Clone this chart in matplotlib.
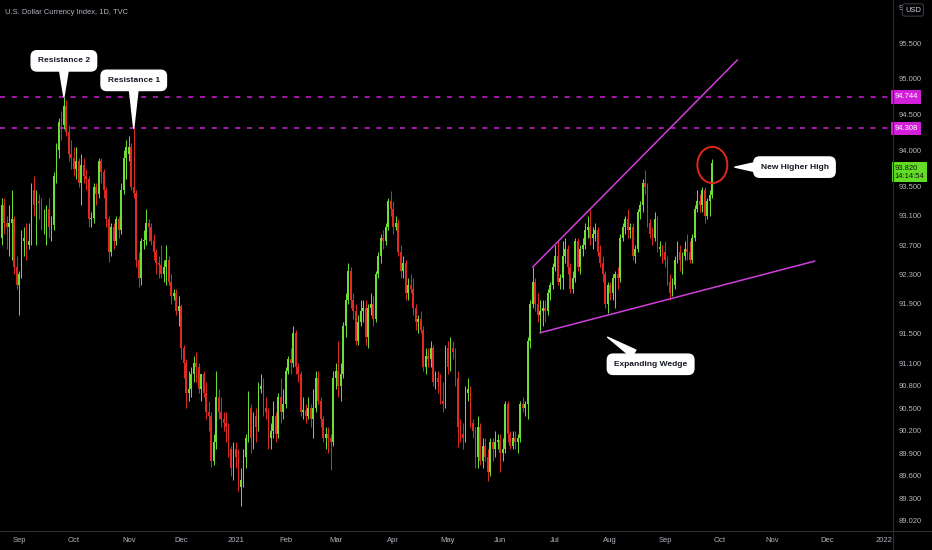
import matplotlib
matplotlib.use('Agg')
import matplotlib.pyplot as plt
from matplotlib.patches import Ellipse
from matplotlib.ticker import FixedLocator, NullLocator, FuncFormatter
import numpy as np
import pandas as pd

plt.rcParams['font.family'] = ['Liberation Sans', 'DejaVu Sans']

# daily candles (open, high, low, close), one list per month
aug_2020 = [
    (92.95, 93.05, 92.50, 92.80), (92.80, 93.35, 92.70, 93.25), (93.25, 93.35, 92.85, 93.00),
    (93.00, 93.10, 92.65, 92.95), (92.95, 93.25, 92.55, 93.00), (93.00, 93.45, 92.50, 93.05),
    (93.05, 93.10, 92.30, 92.40), (92.40, 92.55, 92.10, 92.15),
]
sep_2020 = [
    (92.15, 92.35, 91.75, 92.30), (92.30, 92.90, 92.25, 92.75), (92.75, 92.95, 92.55, 92.80),
    (92.80, 93.00, 92.50, 92.70), (92.70, 93.00, 92.65, 92.75), (92.75, 93.55, 92.70, 93.45),
    (93.45, 93.65, 93.10, 93.25), (93.25, 93.45, 92.70, 93.30), (93.30, 93.40, 93.05, 93.28),
    (93.28, 93.35, 92.90, 93.05), (93.05, 93.20, 92.85, 93.06), (93.06, 93.25, 92.70, 93.20),
    (93.20, 93.35, 92.80, 92.95), (92.95, 93.10, 92.75, 92.97), (92.97, 93.70, 92.90, 93.65),
    (93.65, 94.10, 93.55, 94.00), (94.00, 94.45, 93.90, 94.40), (94.40, 94.55, 94.15, 94.35),
    (94.35, 94.744, 94.30, 94.62), (94.62, 94.70, 94.20, 94.25), (94.25, 94.35, 93.85, 93.95),
    (93.95, 94.15, 93.75, 93.90),
]
oct_2020 = [
    (93.90, 94.05, 93.65, 93.75), (93.75, 94.05, 93.60, 93.85), (93.85, 93.90, 93.50, 93.55),
    (93.55, 93.95, 93.25, 93.80), (93.80, 93.90, 93.55, 93.65), (93.65, 93.75, 93.45, 93.60),
    (93.60, 93.65, 92.95, 93.05), (93.05, 93.15, 92.95, 93.07), (93.07, 93.55, 93.00, 93.50),
    (93.50, 93.55, 93.25, 93.40), (93.40, 93.90, 93.35, 93.85), (93.85, 93.90, 93.55, 93.70),
    (93.70, 93.75, 93.35, 93.45), (93.45, 93.50, 92.95, 93.05), (93.05, 93.10, 92.47, 92.60),
    (92.60, 93.00, 92.55, 92.95), (92.95, 93.00, 92.65, 92.75), (92.75, 93.10, 92.70, 93.05),
    (93.05, 93.10, 92.80, 92.90), (92.90, 93.55, 92.85, 93.45), (93.45, 94.00, 93.40, 93.90),
    (93.90, 94.15, 93.60, 94.05),
]
nov_2020 = [
    (93.95, 94.20, 93.85, 94.05), (94.05, 94.10, 93.45, 93.50), (93.50, 94.308, 93.35, 93.42),
    (93.42, 93.45, 92.40, 92.50), (92.50, 92.60, 92.13, 92.25), (92.25, 92.80, 92.15, 92.75),
    (92.75, 92.90, 92.65, 92.77), (92.77, 93.20, 92.70, 93.00), (93.00, 93.05, 92.75, 92.95),
    (92.95, 93.00, 92.70, 92.75), (92.75, 92.85, 92.50, 92.60), (92.60, 92.65, 92.30, 92.45),
    (92.45, 92.55, 92.25, 92.43), (92.43, 92.70, 92.25, 92.30), (92.30, 92.50, 92.20, 92.40),
    (92.40, 92.70, 92.15, 92.50), (92.50, 92.55, 92.15, 92.20), (92.20, 92.30, 91.90, 92.00),
    (92.00, 92.10, 91.95, 92.05), (92.05, 92.10, 91.75, 91.80), (91.80, 92.00, 91.60, 91.87),
]
dec_2020 = [
    (91.87, 91.90, 91.15, 91.30), (91.30, 91.35, 90.90, 91.10), (91.10, 91.15, 90.50, 90.70),
    (90.70, 91.00, 90.60, 90.75), (90.75, 91.05, 90.65, 90.95), (90.95, 91.20, 90.85, 91.10),
    (91.10, 91.25, 90.85, 91.05), (91.05, 91.10, 90.70, 90.75), (90.75, 90.95, 90.60, 90.95),
    (90.95, 91.00, 90.65, 90.70), (90.70, 90.85, 90.35, 90.45), (90.45, 90.60, 90.20, 90.40),
    (90.40, 90.45, 89.72, 89.80), (89.80, 90.15, 89.75, 90.05), (90.05, 91.00, 89.95, 90.65),
    (90.65, 90.75, 90.35, 90.45), (90.45, 90.65, 90.25, 90.35), (90.35, 90.45, 90.20, 90.30),
    (90.30, 90.45, 90.05, 90.25), (90.25, 90.30, 89.85, 89.95), (89.95, 90.00, 89.60, 89.70),
    (89.70, 90.05, 89.55, 89.95),
]
jan_2021 = [
    (89.95, 90.05, 89.70, 89.85), (89.85, 89.95, 89.40, 89.45), (89.45, 89.70, 89.21, 89.55),
    (89.55, 89.95, 89.45, 89.85), (89.85, 90.15, 89.70, 90.10), (90.10, 90.73, 90.05, 90.50),
    (90.50, 90.55, 89.90, 90.10), (90.10, 90.45, 89.95, 90.40), (90.40, 90.50, 90.05, 90.25),
    (90.25, 90.85, 90.20, 90.75), (90.75, 90.95, 90.70, 90.80), (90.80, 90.90, 90.40, 90.50),
    (90.50, 90.65, 90.35, 90.45), (90.45, 90.50, 89.95, 90.10), (90.10, 90.30, 89.95, 90.20),
    (90.20, 90.60, 90.10, 90.40), (90.40, 90.45, 90.05, 90.15), (90.15, 90.70, 90.10, 90.65),
    (90.65, 90.90, 90.30, 90.45), (90.45, 90.75, 90.35, 90.55),
]
feb_2021 = [
    (90.55, 91.05, 90.50, 91.00), (91.00, 91.20, 90.95, 91.15), (91.15, 91.30, 90.95, 91.10),
    (91.10, 91.60, 91.05, 91.50), (91.50, 91.55, 90.95, 91.05), (91.05, 91.10, 90.85, 90.95),
    (90.95, 91.00, 90.40, 90.45), (90.45, 90.65, 90.35, 90.47), (90.47, 90.55, 90.30, 90.40),
    (90.40, 90.65, 90.35, 90.50), (90.50, 90.55, 90.25, 90.35), (90.35, 90.75, 90.10, 90.50),
    (90.50, 91.00, 90.45, 90.90), (90.90, 91.00, 90.55, 90.60), (90.60, 90.65, 90.25, 90.35),
    (90.35, 90.40, 90.05, 90.10), (90.10, 90.25, 89.95, 90.15), (90.15, 90.25, 89.90, 90.10),
    (90.10, 90.15, 89.68, 90.05), (90.05, 91.00, 90.00, 90.90),
]
mar_2021 = [
    (90.90, 91.10, 90.75, 91.00), (91.00, 91.40, 90.65, 90.80), (90.80, 91.10, 90.60, 90.95),
    (90.95, 91.65, 90.90, 91.60), (91.60, 92.05, 91.45, 91.95), (91.95, 92.45, 91.90, 92.35),
    (92.35, 92.40, 91.85, 91.95), (91.95, 92.05, 91.70, 91.80), (91.80, 91.90, 91.35, 91.40),
    (91.40, 91.75, 91.35, 91.65), (91.65, 91.95, 91.60, 91.80), (91.80, 91.95, 91.65, 91.85),
    (91.85, 91.95, 91.35, 91.45), (91.45, 91.90, 91.30, 91.85), (91.85, 92.05, 91.75, 91.90),
    (91.90, 92.00, 91.60, 91.70), (91.70, 92.35, 91.65, 92.30), (92.30, 92.60, 92.25, 92.55),
    (92.55, 92.85, 92.45, 92.80), (92.80, 92.90, 92.65, 92.75), (92.75, 93.00, 92.70, 92.95),
    (92.95, 93.35, 92.90, 93.30), (93.30, 93.44, 93.10, 93.20),
]
apr_2021 = [
    (93.20, 93.30, 92.85, 92.95), (92.95, 93.10, 92.90, 93.00), (93.00, 93.05, 92.55, 92.60),
    (92.60, 92.70, 92.25, 92.35), (92.35, 92.55, 92.25, 92.45), (92.45, 92.50, 91.95, 92.05),
    (92.05, 92.25, 91.95, 92.15), (92.15, 92.30, 92.05, 92.10), (92.10, 92.25, 91.75, 91.85),
    (91.85, 91.90, 91.55, 91.65), (91.65, 91.75, 91.50, 91.70), (91.70, 91.80, 91.50, 91.55),
    (91.55, 91.60, 91.00, 91.05), (91.05, 91.30, 90.95, 91.20), (91.20, 91.30, 91.05, 91.15),
    (91.15, 91.40, 91.05, 91.30), (91.30, 91.35, 90.80, 90.85), (90.85, 91.00, 90.75, 90.90),
    (90.90, 91.00, 90.70, 90.85), (90.85, 90.95, 90.55, 90.60), (90.60, 90.85, 90.45, 90.55),
    (90.55, 91.35, 90.50, 91.30),
]
may_2021 = [
    (91.30, 91.40, 90.95, 91.05), (91.05, 91.45, 91.00, 91.30), (91.30, 91.40, 91.15, 91.25),
    (91.25, 91.30, 90.80, 90.90), (90.90, 91.00, 89.98, 90.25), (90.25, 90.35, 90.05, 90.15),
    (90.15, 90.30, 89.95, 90.10), (90.10, 90.80, 90.05, 90.70), (90.70, 90.90, 90.60, 90.75),
    (90.75, 90.80, 90.25, 90.30), (90.30, 90.35, 90.10, 90.20), (90.20, 90.25, 89.70, 89.85),
    (89.85, 90.40, 89.70, 90.25), (90.25, 90.30, 89.75, 89.80), (89.80, 90.10, 89.70, 90.00),
    (90.00, 90.10, 89.80, 89.85), (89.85, 89.95, 89.53, 89.65), (89.65, 90.10, 89.60, 90.05),
    (90.05, 90.10, 89.80, 89.95), (89.95, 90.20, 89.85, 90.05), (90.05, 90.15, 89.95, 90.07),
]
jun_2021 = [
    (90.07, 90.15, 89.65, 89.90), (89.90, 90.10, 89.80, 89.95), (89.95, 90.60, 89.90, 90.55),
    (90.55, 90.60, 90.05, 90.15), (90.15, 90.20, 89.95, 90.00), (90.00, 90.20, 89.95, 90.10),
    (90.10, 90.20, 89.95, 90.05), (90.05, 90.15, 89.90, 90.10), (90.10, 90.60, 90.05, 90.55),
    (90.55, 90.65, 90.45, 90.50), (90.50, 90.60, 90.40, 90.55), (90.55, 91.45, 90.35, 91.40),
    (91.40, 91.95, 91.30, 91.90), (91.90, 92.40, 91.85, 92.20), (92.20, 92.25, 91.80, 91.90),
    (91.90, 92.05, 91.65, 91.75), (91.75, 91.95, 91.51, 91.80), (91.80, 91.95, 91.60, 91.85),
    (91.85, 91.95, 91.65, 91.80), (91.80, 92.10, 91.75, 92.05), (92.05, 92.20, 91.95, 92.15),
    (92.15, 92.45, 92.10, 92.40),
]
jul_2021 = [
    (92.40, 92.70, 92.35, 92.55), (92.55, 92.75, 92.15, 92.20), (92.20, 92.30, 92.10, 92.25),
    (92.25, 92.75, 92.10, 92.55), (92.55, 92.80, 92.45, 92.65), (92.65, 92.70, 92.30, 92.40),
    (92.40, 92.45, 92.05, 92.10), (92.10, 92.35, 92.05, 92.25), (92.25, 92.80, 92.20, 92.75),
    (92.75, 92.80, 92.35, 92.40), (92.40, 92.70, 92.30, 92.65), (92.65, 92.80, 92.55, 92.70),
    (92.70, 93.00, 92.65, 92.90), (92.90, 93.10, 92.80, 92.95), (92.95, 93.19, 92.70, 92.80),
    (92.80, 92.95, 92.65, 92.85), (92.85, 93.00, 92.75, 92.90), (92.90, 92.95, 92.55, 92.60),
    (92.60, 92.70, 92.40, 92.45), (92.45, 92.55, 92.20, 92.30), (92.30, 92.35, 91.85, 91.90),
    (91.90, 92.20, 91.78, 92.15),
]
aug_2021 = [
    (92.15, 92.20, 91.95, 92.05), (92.05, 92.30, 91.95, 92.25), (92.25, 92.35, 91.85, 92.30),
    (92.30, 92.40, 92.10, 92.25), (92.25, 92.85, 92.20, 92.80), (92.80, 93.00, 92.75, 92.95),
    (92.95, 93.10, 92.85, 93.05), (93.05, 93.20, 92.80, 92.90), (92.90, 93.00, 92.80, 92.95),
    (92.95, 93.00, 92.50, 92.55), (92.55, 92.70, 92.45, 92.65), (92.65, 93.20, 92.60, 93.15),
    (93.15, 93.30, 93.05, 93.25), (93.25, 93.60, 93.15, 93.55), (93.55, 93.73, 93.40, 93.50),
    (93.50, 93.55, 92.95, 93.00), (93.00, 93.05, 92.80, 92.85), (92.85, 92.95, 92.70, 92.80),
    (92.80, 93.15, 92.75, 93.05), (93.05, 93.10, 92.60, 92.65), (92.65, 92.75, 92.55, 92.67),
    (92.67, 92.70, 92.45, 92.60),
]
sep_2021 = [
    (92.60, 92.75, 92.40, 92.50), (92.50, 92.55, 92.15, 92.20), (92.20, 92.30, 91.95, 92.05),
    (92.05, 92.25, 92.00, 92.15), (92.15, 92.55, 92.10, 92.50), (92.50, 92.75, 92.45, 92.60),
    (92.60, 92.70, 92.35, 92.50), (92.50, 92.60, 92.30, 92.55), (92.55, 92.75, 92.50, 92.65),
    (92.65, 92.85, 92.50, 92.60), (92.60, 92.75, 92.45, 92.50), (92.50, 92.85, 92.45, 92.80),
    (92.80, 93.25, 92.75, 93.20), (93.20, 93.45, 93.15, 93.30), (93.30, 93.40, 93.15, 93.25),
    (93.25, 93.50, 93.15, 93.45), (93.45, 93.50, 93.00, 93.10), (93.10, 93.35, 93.05, 93.30),
    (93.30, 93.45, 93.10, 93.38), (93.38, 93.88, 93.35, 93.82),
]

months = [
    ('2020-08', aug_2020), ('2020-09', sep_2020), ('2020-10', oct_2020), ('2020-11', nov_2020),
    ('2020-12', dec_2020), ('2021-01', jan_2021), ('2021-02', feb_2021), ('2021-03', mar_2021),
    ('2021-04', apr_2021), ('2021-05', may_2021), ('2021-06', jun_2021), ('2021-07', jul_2021),
    ('2021-08', aug_2021), ('2021-09', sep_2021),
]

price_ticks = [96.0, 95.5, 95.0, 94.5, 94.0, 93.5, 93.1, 92.7, 92.3, 91.9, 91.5,
               91.1, 90.8, 90.5, 90.2, 89.9, 89.6, 89.3, 89.02]
resistance = [94.744, 94.308]
last_price = 93.820
countdown = '14:14:54'
wedge_upper = [('2021-06-18', 92.40), ('2021-10-12', 95.26)]
wedge_lower = [('2021-06-23', 91.51), ('2021-11-24', 92.48)]
holidays = ['2020-12-25', '2021-01-01']

GREEN = '#6ee035'
RED = '#e02a22'
MAGENTA = '#d21fd8'
GREY = '#b2b5be'
LINE = '#2a2e39'

# trading calendar (bar index = x position)
cal = pd.bdate_range('2020-08-20', '2022-01-14')
cal = cal[~cal.isin(pd.to_datetime(holidays))]
pos = {d: i for i, d in enumerate(cal)}
ym = cal.strftime('%Y-%m')


def bar_of(d):
    return pos[pd.Timestamp(d)]


xs, rows = [], []
for key, data in months:
    idx = np.where(ym == key)[0][:len(data)]
    xs.extend(idx)
    rows.extend(data)
x = np.array(xs)
o, h, l, c = np.array(rows).T

fig = plt.figure(figsize=(9.32, 5.5), dpi=100, facecolor='black')
ax = fig.add_axes([0, 19 / 550, 893 / 932, 531 / 550])
ax.set_facecolor('black')
ax.set_yscale('log')

col = np.where(c >= o, GREEN, RED)
ax.vlines(x, l, h, colors=col, lw=0.7, zorder=2)
ax.bar(x, np.maximum(np.abs(c - o), 0.012), bottom=np.minimum(o, c), width=0.72,
       color=col, lw=0, zorder=3)

for v in resistance:
    ax.axhline(v, color=MAGENTA, lw=1.1, ls=(0, (3.3, 4.4)), zorder=4)
    ax.text(1.0015, v, f'{v:.3f}', transform=ax.get_yaxis_transform(), ha='left', va='center',
            fontsize=5.5, color='white', clip_on=False, zorder=6,
            bbox=dict(boxstyle='square,pad=0.4', fc=MAGENTA, ec='none'))

for line in (wedge_upper, wedge_lower):
    ax.plot([bar_of(d) for d, _ in line], [v for _, v in line], color='#cf3fdc', lw=1.1, zorder=4)

ax.add_patch(Ellipse((bar_of('2021-09-28'), 93.80), 12, 0.5, fill=False, ec='#e0281c',
                     lw=1.4, zorder=5))

ax.text(1.0015, 93.70, f'{last_price:.3f}\n{countdown}', transform=ax.get_yaxis_transform(),
        ha='left', va='center', fontsize=5.5, color='#0f1a05', linespacing=1.25, clip_on=False,
        zorder=6, bbox=dict(boxstyle='square,pad=0.35', fc='#63dc26', ec='none'))


def callout(text, d, price, offset):
    ax.annotate(text, xy=(bar_of(d), price), xytext=offset, textcoords='offset points',
                ha='center', va='center', fontsize=6.0, fontweight='bold', color='#131722',
                bbox=dict(boxstyle='round,pad=0.8,rounding_size=0.7', fc='white', ec='white'),
                arrowprops=dict(arrowstyle='wedge,tail_width=1.0', fc='white', ec='white',
                                shrinkA=0, shrinkB=0),
                annotation_clip=False, zorder=7)


callout('Resistance 2', '2020-09-25', 94.744, (0, 26))
callout('Resistance 1', '2020-11-04', 94.308, (0, 34.5))
callout('New Higher High', '2021-10-11', 93.77, (43, 0))
callout('Expanding Wedge', '2021-07-30', 91.45, (31, -19.5))

# axes and ticks
left = bar_of('2020-09-01') - 19 / 2.494
ax.set_xlim(left, left + 893 / 2.494)
ax.set_ylim(88.876, 96.107)

month_starts = [cal[ym == m][0] for m in pd.period_range('2020-09', '2022-01', freq='M').strftime('%Y-%m')]
ax.xaxis.set_major_locator(FixedLocator([pos[d] for d in month_starts]))
ax.xaxis.set_major_formatter(FuncFormatter(
    lambda v, p: (cal[int(round(v))].strftime('%Y') if cal[int(round(v))].month == 1
                  else cal[int(round(v))].strftime('%b'))))
ax.yaxis.tick_right()
ax.yaxis.set_major_locator(FixedLocator(price_ticks))
ax.yaxis.set_major_formatter(FuncFormatter(lambda v, p: f'{v:.3f}'))
ax.yaxis.set_minor_locator(NullLocator())
ax.xaxis.set_minor_locator(NullLocator())
ax.tick_params(axis='x', length=0, pad=4, labelsize=5.5, colors=GREY)
ax.tick_params(axis='y', length=0, pad=4, labelsize=5.5, colors=GREY)
for s in ax.spines.values():
    s.set_visible(False)

fig.add_artist(plt.Line2D([0, 1], [19 / 550, 19 / 550], color=LINE, lw=0.8))
fig.add_artist(plt.Line2D([893 / 932, 893 / 932], [0, 1], color=LINE, lw=0.8))

fig.text(5 / 932, 1 - 12 / 550, 'U.S. Dollar Currency Index, 1D, TVC', fontsize=5.4,
         color=GREY, va='center', ha='left')
fig.text(913 / 932, 1 - 10 / 550, 'USD', fontsize=5.4, color='#d1d4dc', ha='center', va='center',
         bbox=dict(boxstyle='round,pad=0.35,rounding_size=0.3', fc='black', ec='#363a45', lw=0.8))

fig.savefig('out.png', dpi=100, facecolor='black')
